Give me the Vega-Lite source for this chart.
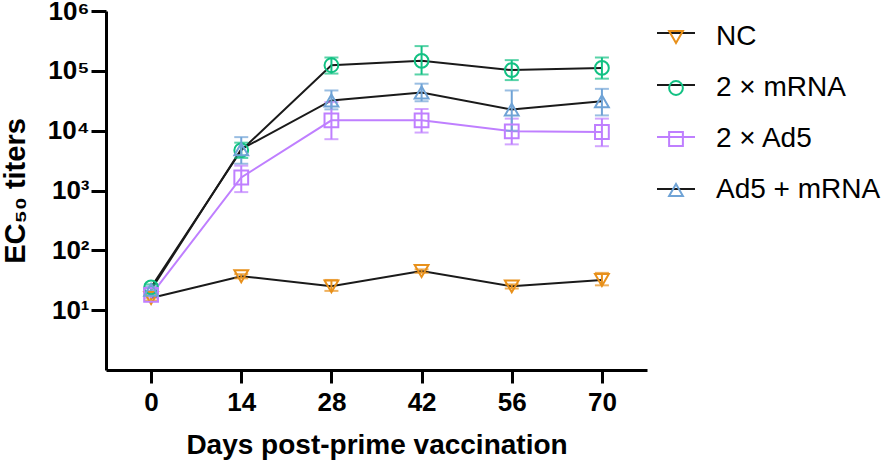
{
  "$schema": "https://vega.github.io/schema/vega-lite/v6.json",
  "width": 541,
  "height": 359,
  "autosize": {"type": "none"},
  "padding": {"left": 106, "top": 11, "right": 239, "bottom": 96},
  "background": "white",
  "config": {
    "view": {"stroke": null},
    "font": "Liberation Sans",
    "axis": {
      "grid": false,
      "domainColor": "black",
      "domainWidth": 3,
      "tickColor": "black",
      "tickWidth": 3,
      "labelFont": "Liberation Sans",
      "labelFontWeight": "bold",
      "labelFontSize": 26,
      "labelColor": "black",
      "titleFont": "Liberation Sans",
      "titleFontWeight": "bold",
      "titleFontSize": 28,
      "titleColor": "black"
    },
    "legend": {
      "labelFont": "Liberation Sans",
      "labelFontSize": 28,
      "labelColor": "black",
      "labelFontWeight": "normal",
      "labelLimit": 400
    }
  },
  "data": {
    "values": [
      {"group": "NC", "day": 0, "value": 16, "lo": 14.5, "hi": 17.5},
      {"group": "NC", "day": 14, "value": 37, "lo": 34, "hi": 40},
      {"group": "NC", "day": 28, "value": 25, "lo": 21, "hi": 32},
      {"group": "NC", "day": 42, "value": 45, "lo": 42, "hi": 48},
      {"group": "NC", "day": 56, "value": 25, "lo": 23, "hi": 27},
      {"group": "NC", "day": 70, "value": 32, "lo": 26, "hi": 42},
      {"group": "2 × mRNA", "day": 0, "value": 24, "lo": 21, "hi": 27},
      {"group": "2 × mRNA", "day": 14, "value": 4700, "lo": 3500, "hi": 6300},
      {"group": "2 × mRNA", "day": 28, "value": 124000, "lo": 90000, "hi": 167000},
      {"group": "2 × mRNA", "day": 42, "value": 147000, "lo": 87000, "hi": 259000},
      {"group": "2 × mRNA", "day": 56, "value": 103000, "lo": 70000, "hi": 151000},
      {"group": "2 × mRNA", "day": 70, "value": 112000, "lo": 74000, "hi": 167000},
      {"group": "2 × Ad5", "day": 0, "value": 18, "lo": 16, "hi": 21},
      {"group": "2 × Ad5", "day": 14, "value": 1650, "lo": 940, "hi": 2600},
      {"group": "2 × Ad5", "day": 28, "value": 14900, "lo": 7200, "hi": 30000},
      {"group": "2 × Ad5", "day": 42, "value": 14900, "lo": 9300, "hi": 23000},
      {"group": "2 × Ad5", "day": 56, "value": 9750, "lo": 5900, "hi": 15900},
      {"group": "2 × Ad5", "day": 70, "value": 9500, "lo": 5500, "hi": 15900},
      {"group": "Ad5 + mRNA", "day": 0, "value": 22, "lo": 19, "hi": 25},
      {"group": "Ad5 + mRNA", "day": 14, "value": 4900, "lo": 2800, "hi": 7800},
      {"group": "Ad5 + mRNA", "day": 28, "value": 32000, "lo": 22700, "hi": 47000},
      {"group": "Ad5 + mRNA", "day": 42, "value": 43400, "lo": 31000, "hi": 61000},
      {"group": "Ad5 + mRNA", "day": 56, "value": 22500, "lo": 10000, "hi": 47000},
      {"group": "Ad5 + mRNA", "day": 70, "value": 31000, "lo": 18000, "hi": 50000}
    ]
  },
  "encoding": {
    "x": {
      "field": "day",
      "type": "quantitative",
      "scale": {"domain": [-7, 77], "nice": false, "zero": false},
      "axis": {
        "title": "Days post-prime vaccination",
        "values": [0, 14, 28, 42, 56, 70],
        "tickSize": 13,
        "labelPadding": 6,
        "titlePadding": 16
      }
    }
  },
  "layer": [
    {
      "mark": {"type": "line", "strokeWidth": 2},
      "encoding": {
        "y": {"field": "value", "type": "quantitative", "scale": {"type": "log", "domain": [1, 1000000], "nice": false}},
        "stroke": {
          "field": "group",
          "type": "nominal",
          "scale": {"domain": ["NC", "2 × mRNA", "2 × Ad5", "Ad5 + mRNA"], "range": ["#1a1a1a", "#1a1a1a", "#BF7FFF", "#1a1a1a"]},
          "legend": {
            "orient": "right",
            "offset": 7,
            "padding": 2,
            "title": null,
            "symbolType": "stroke",
            "symbolSize": 1444,
            "symbolStrokeWidth": 2,
            "labelOpacity": 0,
            "rowPadding": 18
          }
        }
      }
    },
    {
      "mark": {"type": "errorbar", "ticks": {"size": 14}, "thickness": 2},
      "encoding": {
        "y": {"field": "lo", "type": "quantitative", "scale": {"type": "log", "domain": [1, 1000000], "nice": false}, "title": "EC₅₀ titers"},
        "y2": {"field": "hi"},
        "color": {
          "field": "group",
          "type": "nominal",
          "scale": {"domain": ["NC", "2 × mRNA", "2 × Ad5", "Ad5 + mRNA"], "range": ["#E8901A", "#12C183", "#BF7FFF", "#6FA3D6"]},
          "legend": null
        }
      }
    },
    {
      "mark": {"type": "point", "filled": false, "strokeWidth": 2, "size": 190, "opacity": 1},
      "encoding": {
        "y": {
          "field": "value",
          "type": "quantitative",
          "scale": {"type": "log", "domain": [1, 1000000], "nice": false},
          "axis": {
            "title": "EC₅₀ titers",
            "values": [10, 100, 1000, 10000, 100000, 1000000],
            "labelExpr": "'10' + (datum.value == 10 ? '¹' : datum.value == 100 ? '²' : datum.value == 1000 ? '³' : datum.value == 10000 ? '⁴' : datum.value == 100000 ? '⁵' : '⁶')",
            "tickSize": 15,
            "labelPadding": 2,
            "titleFontSize": 29,
            "titlePadding": 17
          }
        },
        "color": {
          "field": "group",
          "type": "nominal",
          "scale": {"domain": ["NC", "2 × mRNA", "2 × Ad5", "Ad5 + mRNA"], "range": ["#E8901A", "#12C183", "#BF7FFF", "#6FA3D6"]},
          "legend": null
        },
        "shape": {
          "field": "group",
          "type": "nominal",
          "scale": {"domain": ["NC", "2 × mRNA", "2 × Ad5", "Ad5 + mRNA"], "range": ["triangle-down", "circle", "square", "triangle-up"]},
          "legend": {
            "orient": "none",
            "legendX": 556,
            "legendY": 12,
            "title": null,
            "symbolSize": 190,
            "symbolStrokeWidth": 2,
            "labelOffset": 26,
            "rowPadding": 23,
            "encoding": {
              "symbols": {
                "fill": {"value": "transparent"},
                "stroke": {"value": {"expr": "scale('color', datum.value)"}},
                "strokeWidth": {"value": 2}
              }
            }
          }
        }
      }
    }
  ]
}
